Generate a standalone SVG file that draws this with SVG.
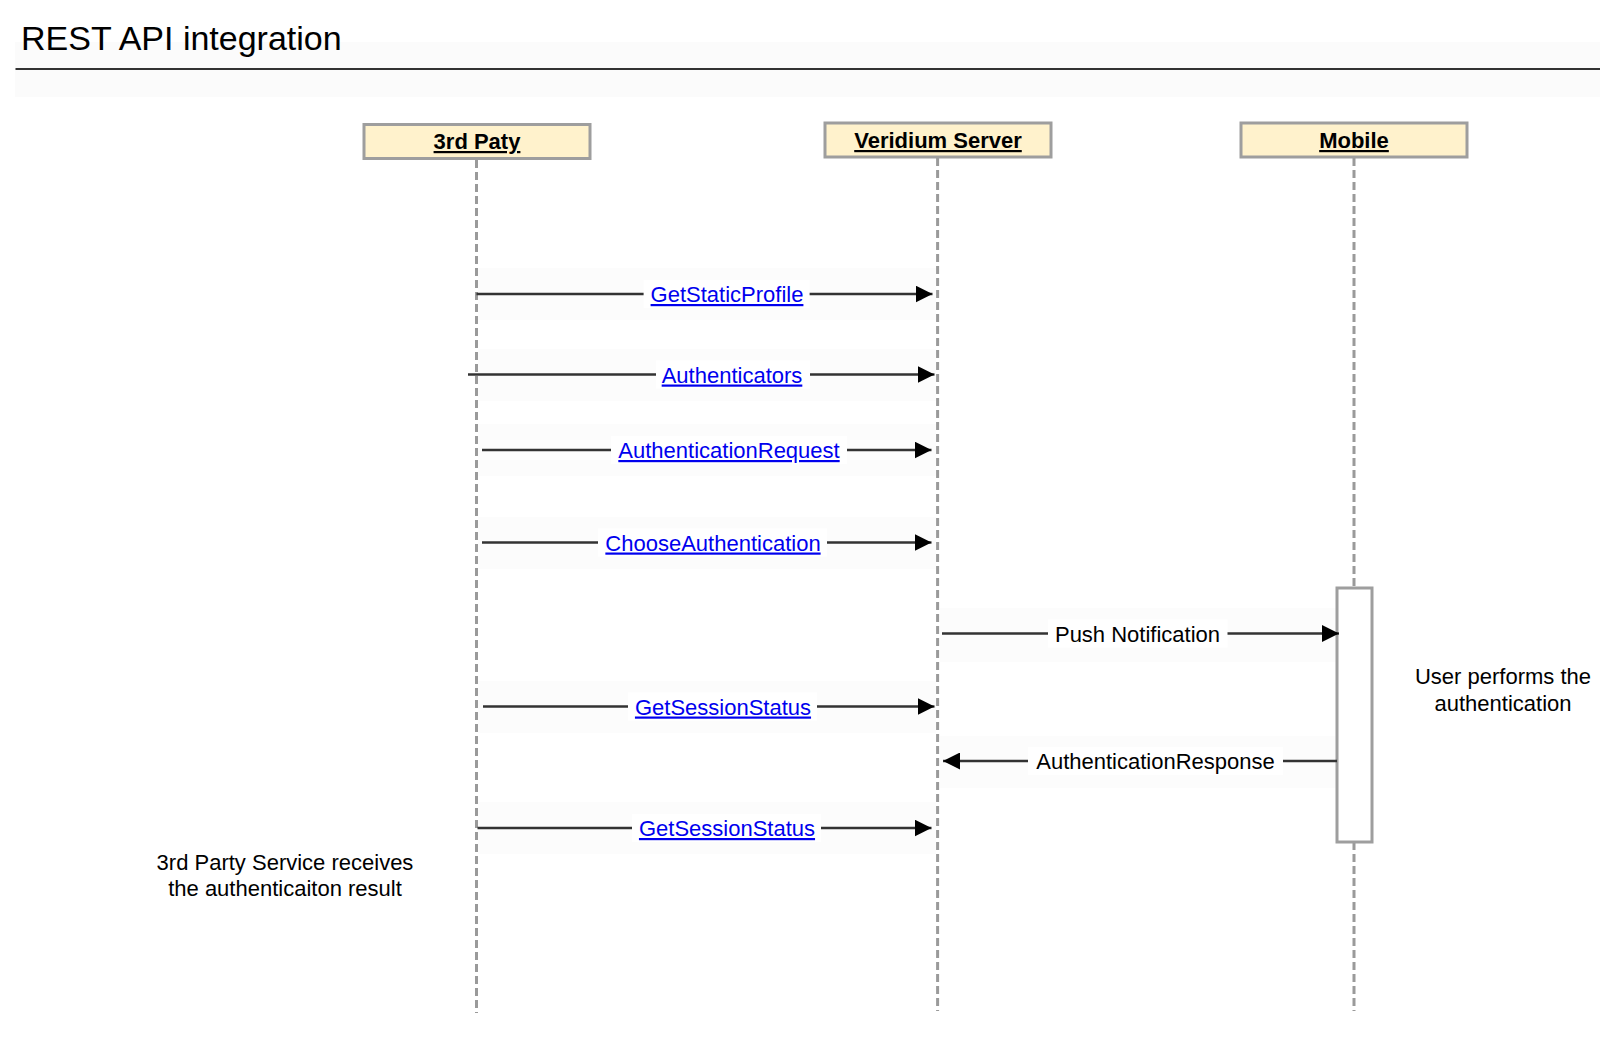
<svg xmlns="http://www.w3.org/2000/svg" width="1617" height="1042" viewBox="0 0 1617 1042">
<defs>
<style>
text{font-family:"Liberation Sans",Arial,sans-serif;}
.title{font-size:34px;fill:#000;}
.pbox{fill:#fff2cc;stroke:#9e9e9e;stroke-width:3;}
.plabel{font-size:22px;font-weight:bold;text-decoration:underline;text-anchor:middle;fill:#000;}
.life{stroke:#9a9a9a;stroke-width:3;stroke-dasharray:8 4;fill:none;}
.band{fill:#fcfcfc;}
.msg{stroke:#333;stroke-width:2.5;fill:none;}
.lbg{fill:#fff;}
.link{font-size:22px;fill:#0000ee;text-decoration:underline;text-anchor:middle;}
.lbl{font-size:22px;fill:#000;text-anchor:middle;}
.note{font-size:22px;fill:#000;text-anchor:middle;}
</style>
<marker id="arr" viewBox="0 0 17 17" refX="17" refY="8.5" markerWidth="17" markerHeight="17" markerUnits="userSpaceOnUse" orient="auto">
<path d="M0,0 L17,8.5 L0,17 z" fill="#000"/>
</marker>
</defs>
<rect width="1617" height="1042" fill="#fff"/>
<g id="header">
<rect x="15" y="42" width="1585" height="55" fill="#fbfbfb"/>
<text class="title" x="21" y="50">REST API integration</text>
<line x1="15.5" y1="69" x2="1600" y2="69" stroke="#333" stroke-width="2"/>
</g>
<g id="bands">
<rect class="band" x="478" y="268" width="458" height="52"/>
<rect class="band" x="478" y="349" width="458" height="52"/>
<rect class="band" x="478" y="424" width="458" height="52"/>
<rect class="band" x="478" y="517" width="458" height="52"/>
<rect class="band" x="940" y="608" width="396" height="54"/>
<rect class="band" x="478" y="681" width="458" height="52"/>
<rect class="band" x="940" y="736" width="396" height="52"/>
<rect class="band" x="478" y="802" width="458" height="52"/>
</g>
<g id="lifelines">
<line class="life" x1="476.5" y1="160" x2="476.5" y2="1013"/>
<line class="life" x1="937.6" y1="158" x2="937.6" y2="1011"/>
<line class="life" x1="1354" y1="158" x2="1354" y2="1011"/>
</g>
<g id="p-3rdparty">
<rect class="pbox" x="364" y="124.5" width="226" height="34"/>
<text class="plabel" x="477" y="149">3rd Paty</text>
</g>
<g id="p-server">
<rect class="pbox" x="825" y="123" width="226" height="34"/>
<text class="plabel" x="938" y="148">Veridium Server</text>
</g>
<g id="p-mobile">
<rect class="pbox" x="1241" y="123" width="226" height="34"/>
<text class="plabel" x="1354" y="148">Mobile</text>
</g>
<g id="activation">
<rect x="1337" y="588" width="35" height="254" fill="#fff" stroke="#9e9e9e" stroke-width="3"/>
</g>
<g id="connectors">
<line class="msg" x1="476.5" y1="294" x2="932.5" y2="294" marker-end="url(#arr)"/>
<rect class="lbg" x="643.6" y="280" width="166" height="28"/>
<text class="link" x="727" y="302">GetStaticProfile</text>

<line class="msg" x1="468" y1="374.5" x2="934.5" y2="374.5" marker-end="url(#arr)"/>
<rect class="lbg" x="656" y="360.5" width="154" height="28"/>
<text class="link" x="732" y="382.5">Authenticators</text>

<line class="msg" x1="482" y1="450" x2="931.5" y2="450" marker-end="url(#arr)"/>
<rect class="lbg" x="611" y="436" width="236" height="28"/>
<text class="link" x="729" y="458">AuthenticationRequest</text>

<line class="msg" x1="482" y1="542.5" x2="931.5" y2="542.5" marker-end="url(#arr)"/>
<rect class="lbg" x="598" y="528.5" width="229" height="28"/>
<text class="link" x="713" y="550.5">ChooseAuthentication</text>

<line class="msg" x1="942" y1="633.5" x2="1339" y2="633.5" marker-end="url(#arr)"/>
<rect class="lbg" x="1048" y="619.5" width="179.5" height="28"/>
<text class="lbl" x="1137.5" y="641.5">Push Notification</text>

<line class="msg" x1="483" y1="706.5" x2="934.5" y2="706.5" marker-end="url(#arr)"/>
<rect class="lbg" x="628" y="692.5" width="189" height="28"/>
<text class="link" x="723" y="714.5">GetSessionStatus</text>

<line class="msg" x1="1337" y1="761" x2="943" y2="761" marker-end="url(#arr)"/>
<rect class="lbg" x="1028" y="747" width="255" height="28"/>
<text class="lbl" x="1155.5" y="769">AuthenticationResponse</text>

<line class="msg" x1="477.5" y1="828" x2="931.5" y2="828" marker-end="url(#arr)"/>
<rect class="lbg" x="632" y="814" width="189" height="28"/>
<text class="link" x="727" y="836">GetSessionStatus</text>
</g>
<g id="note-user">
<text class="note" x="1503" y="684">User performs the</text>
<text class="note" x="1503" y="711">authentication</text>
</g>
<g id="note-3rdparty">
<text class="note" x="285" y="870">3rd Party Service receives</text>
<text class="note" x="285" y="896">the authenticaiton result</text>
</g>
</svg>
